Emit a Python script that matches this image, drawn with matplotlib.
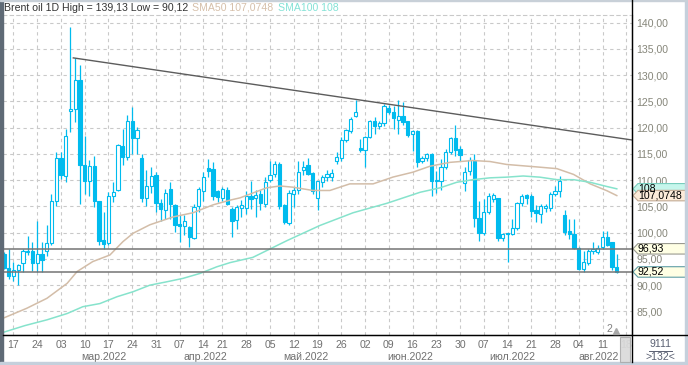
import matplotlib

matplotlib.use("Agg")
import matplotlib.pyplot as plt
import matplotlib.transforms as mtransforms
from matplotlib.lines import Line2D
from matplotlib.patches import Polygon, Rectangle
import numpy as np
import pandas as pd

plt.rcParams["font.family"] = ["Liberation Sans", "DejaVu Sans"]

W, H = 688, 365

# trading days shown (Good Friday has no bar)
dates = pd.bdate_range("2022-02-15", "2022-08-16").drop(pd.Timestamp("2022-04-15"))

opens = [
    95.97, 93.31, 91.78, 92.93, 94.26, 96.30, 96.42, 94.26, 95.91, 96.55,
    98.00, 106.07, 114.32, 110.77, 123.15, 123.60, 129.18, 112.93, 109.81, 112.61,
    106.00, 98.70, 98.00, 106.96, 108.16, 116.60, 114.39, 121.37, 118.07, 114.26,
    106.64, 108.80, 111.02, 105.63, 104.23, 108.36, 105.37, 101.63, 101.30, 101.05,
    99.02, 104.99, 107.85, 112.36, 112.04, 107.85, 106.64, 108.04, 104.55, 102.45,
    104.74, 104.74, 107.08, 106.64, 107.45, 105.50, 110.07, 111.10, 113.00, 105.18,
    101.88, 107.40, 108.04, 111.85, 112.93, 111.40, 106.64, 109.75, 110.58, 110.70,
    113.63, 114.20, 117.70, 119.34, 122.26, 116.20, 115.78, 118.32, 121.24, 120.29,
    120.86, 123.78, 123.08, 121.50, 122.30, 121.20, 118.83, 119.28, 113.60, 114.26,
    114.90, 109.90, 109.81, 112.50, 115.34, 118.07, 115.85, 109.50, 111.72, 113.75,
    102.83, 99.97, 103.90, 106.50, 106.58, 98.96, 99.90, 99.78, 100.90, 105.69,
    107.20, 106.96, 104.23, 103.60, 104.74, 104.74, 107.40, 107.91, 103.40, 100.23,
    99.78, 97.10, 93.10, 94.26, 96.42, 96.30, 97.20, 99.15, 98.20, 93.40,
]
highs = [
    96.30, 96.93, 94.39, 94.07, 96.93, 99.46, 98.19, 102.32, 98.19, 101.37,
    107.40, 115.34, 115.34, 119.78, 139.13, 133.24, 131.85, 118.51, 113.94, 114.70,
    106.10, 103.90, 107.72, 109.62, 116.93, 119.78, 122.50, 123.91, 120.10, 115.02,
    111.85, 112.48, 111.53, 106.45, 108.36, 109.62, 105.50, 103.28, 103.28, 101.20,
    105.50, 108.67, 111.53, 114.07, 113.43, 108.20, 108.67, 108.67, 104.86, 105.18,
    106.26, 107.85, 109.80, 108.16, 108.04, 110.58, 113.75, 113.75, 113.43, 105.50,
    108.04, 108.67, 113.75, 113.75, 114.26, 111.50, 109.94, 110.90, 111.85, 112.04,
    115.34, 118.20, 119.78, 122.00, 125.20, 117.80, 118.50, 121.50, 122.10, 121.37,
    124.55, 124.40, 124.20, 125.30, 124.90, 121.37, 119.60, 119.60, 114.70, 115.15,
    115.15, 111.80, 114.07, 115.97, 118.32, 120.60, 116.60, 112.48, 114.40, 115.00,
    106.10, 106.45, 107.53, 107.60, 106.64, 99.90, 100.00, 102.60, 105.94, 107.40,
    107.40, 107.40, 105.18, 105.50, 105.50, 107.72, 108.80, 110.80, 104.40, 102.64,
    102.64, 97.24, 96.50, 96.93, 98.20, 97.60, 100.40, 100.40, 98.20, 95.97,
]
lows = [
    93.00, 91.20, 90.89, 90.12, 92.60, 95.78, 92.70, 92.60, 92.50, 95.53,
    97.56, 105.05, 110.26, 109.62, 119.15, 121.05, 105.50, 107.40, 107.08, 104.86,
    97.56, 96.93, 97.56, 105.80, 108.03, 112.80, 113.80, 115.02, 115.02, 105.80,
    104.99, 107.50, 103.91, 102.32, 102.64, 102.64, 100.10, 98.20, 99.47, 97.24,
    98.83, 103.91, 106.13, 110.60, 106.26, 105.80, 106.00, 105.20, 99.15, 100.70,
    102.96, 103.50, 104.55, 102.96, 104.23, 104.86, 109.62, 110.58, 104.55, 101.70,
    101.37, 104.86, 107.40, 110.90, 110.90, 107.40, 104.35, 108.67, 109.94, 109.94,
    113.12, 113.75, 117.24, 118.96, 122.00, 115.34, 112.48, 118.00, 118.83, 119.80,
    120.40, 122.60, 119.80, 118.83, 120.60, 118.30, 115.50, 112.50, 113.20, 113.60,
    107.08, 107.50, 108.04, 112.20, 114.90, 114.70, 113.75, 108.03, 111.00, 101.05,
    98.50, 99.50, 103.50, 105.80, 98.50, 98.50, 94.40, 99.50, 100.50, 105.00,
    105.50, 102.96, 102.00, 101.80, 104.00, 104.20, 107.00, 106.77, 99.50, 98.80,
    96.80, 92.80, 92.60, 93.80, 96.00, 95.90, 96.90, 97.40, 92.80, 92.40,
]
closes = [
    93.31, 91.72, 92.93, 93.75, 96.55, 96.55, 94.26, 95.91, 94.83, 98.00,
    106.07, 114.20, 111.02, 118.39, 123.60, 129.18, 112.80, 109.81, 112.61, 106.00,
    98.51, 97.94, 107.08, 107.72, 116.80, 114.40, 121.37, 118.07, 119.47, 106.64,
    108.80, 110.77, 105.63, 104.48, 107.53, 105.50, 101.50, 101.30, 102.26, 99.15,
    104.86, 108.36, 110.58, 111.72, 106.90, 106.77, 108.36, 105.50, 102.32, 104.86,
    105.18, 107.08, 106.45, 107.21, 105.63, 109.75, 111.02, 113.10, 105.05, 102.00,
    107.60, 108.04, 111.65, 112.60, 111.21, 107.85, 109.81, 110.58, 111.21, 111.40,
    114.51, 117.75, 119.47, 121.70, 122.90, 115.78, 118.32, 121.37, 120.29, 120.93,
    124.04, 122.96, 121.80, 122.30, 121.06, 118.70, 119.28, 113.43, 114.26, 114.90,
    109.81, 110.10, 112.60, 115.34, 118.07, 115.66, 114.83, 111.53, 113.88, 102.83,
    99.97, 103.90, 107.08, 107.20, 98.96, 99.78, 99.78, 100.90, 105.69, 107.08,
    106.58, 104.10, 103.78, 105.05, 104.99, 107.40, 107.91, 109.94, 100.10, 99.78,
    97.10, 93.10, 94.39, 96.50, 96.93, 97.12, 99.20, 97.75, 93.40, 92.52,
]

# moving averages at sample bars (bar index, price)
sma50_bar = [-0.2, 4.8, 9.05, 13.3, 15.4, 18.7, 22.3, 25.05, 27.2, 30.7, 35.6, 39.8,
             44.0, 47.6, 49.7, 55.3, 58.1, 60.8, 65.05, 68.6, 72.8, 77.7, 81.9, 86.1,
             89.7, 93.9, 98.7, 102.3, 105.8, 109.3, 112.8, 116.4, 119.9, 123.4, 126.9, 129.0]
sma50_val = [83.7, 85.6, 87.5, 90.35, 92.6, 94.5, 95.75, 98.3, 99.9, 101.5, 103.0, 103.8,
             105.3, 106.2, 106.64, 108.55, 108.9, 108.67, 108.04, 108.04, 109.3, 109.3, 110.6, 111.53,
             112.67, 113.4, 113.75, 113.56, 113.0, 112.74, 112.48, 112.2, 111.1, 109.3, 108.0, 107.07]
sma100_bar = [-0.2, 4.4, 9.05, 13.3, 16.6, 20.2, 23.8, 27.2, 30.7, 34.3, 37.7, 41.3, 44.8,
              47.6, 52.4, 59.6, 66.5, 73.5, 80.6, 87.6, 91.8, 95.3, 98.7, 102.3, 105.8,
              109.3, 112.8, 116.4, 119.9, 123.4, 126.9, 129.0]
sma100_val = [81.0, 82.3, 83.4, 84.6, 85.9, 86.5, 87.8, 88.76, 90.0, 90.65, 91.3, 92.25, 93.5,
              94.3, 95.3, 98.5, 101.37, 103.8, 105.6, 107.7, 108.55, 109.6, 110.1, 110.45, 110.58,
              110.8, 110.58, 110.1, 110.1, 109.6, 108.8, 108.36]

trend_bar = [14.6, 132.2]
trend_val = [133.3, 117.66]
levels = [96.93, 92.52]

month_labels = {3: "мар.2022", 4: "апр.2022", 5: "май.2022",
                6: "июн.2022", 7: "июл.2022", 8: "авг.2022"}

BLUE = "#00bbee"
TAN = "#d3bda8"
AQUA = "#86e3cc"
GRID = "#c9c9c9"
LABEL = "#707070"


def px(x, y):
    return x / W, 1 - y / H


def main() -> None:
    o, h, l, c = map(np.asarray, (opens, highs, lows, closes))
    xs = np.arange(len(dates))
    xmin, xmax = -0.2, 132.2

    fig = plt.figure(figsize=(W / 100, H / 100), dpi=100)
    ax = fig.add_axes([3 / W, 1 - 335 / H, 629 / W, 320 / H])
    ax.set_xlim(xmin, xmax)
    ax.set_ylim(80.51, 141.47)

    # candles
    up = c >= o
    ax.vlines(xs, l, h, color=BLUE, lw=0.9, zorder=3)
    ax.bar(xs, np.maximum(np.abs(c - o), 0.1), bottom=np.minimum(o, c), width=0.7,
           color=np.where(up, "white", BLUE), edgecolor=BLUE, linewidth=0.8, zorder=4)

    ax.plot(sma50_bar, sma50_val, color=TAN, lw=1.1, zorder=5)
    ax.plot(sma100_bar, sma100_val, color=AQUA, lw=1.1, zorder=5)
    ax.plot(trend_bar, trend_val, color="#5c5c5c", lw=1.0, zorder=5)
    for v in levels:
        ax.axhline(v, color="#747474", lw=1.1, zorder=5)

    # axes styling
    for side in ("left",):
        ax.spines[side].set_visible(False)
    ax.spines["top"].set_color(GRID)
    ax.spines["top"].set_linestyle((0, (3, 3)))
    ax.spines["top"].set_linewidth(0.8)
    ax.spines["right"].set_color("black")
    ax.spines["bottom"].set_color("black")

    ax.yaxis.tick_right()
    ax.set_yticks(range(85, 145, 5))
    ax.set_yticklabels([f"{v:.2f}".replace(".", ",") for v in range(85, 145, 5)])
    ax.tick_params(axis="y", length=0, pad=3, labelsize=7.6, labelcolor="#86867a")

    thursdays = [i for i, d in enumerate(dates) if d.weekday() == 3] + [len(dates) + 1]
    day_text = [dates[i].strftime("%d") for i in thursdays[:-1]] + ["18"]
    ax.set_xticks(thursdays)
    ax.set_xticklabels(day_text)
    ax.tick_params(axis="x", length=0, pad=3.5, labelsize=7.6, labelcolor=LABEL)
    ax.get_xticklabels()[-1].set_color("#c4c4c4")

    ax.grid(True, color=GRID, lw=0.8, linestyle=(0, (3, 3)))
    ax.set_axisbelow(True)

    # month captions, centred on the visible part of each month
    months = pd.Series(xs, index=dates.month)
    for m, lab in month_labels.items():
        idx = months.loc[m]
        right = xmax if m == 8 else idx.max()
        ax.annotate(lab, xy=((idx.min() + right) / 2, 0), xycoords=("data", "axes fraction"),
                    xytext=(0, -15.5), textcoords="offset points", ha="center", va="center",
                    fontsize=7.6, color=LABEL, annotation_clip=False)

    # price tags on the right scale
    tr = mtransforms.blended_transform_factory(ax.transAxes, ax.transData)
    tags = [(108.36, "108", "#c6f6ec", "#78cdbd"),
            (107.07, "107,0748", "#fcebd9", "#c3ab95"),
            (96.93, "96,93", "#ffffe4", "#9a9a90"),
            (92.52, "92,52", "#ffffe4", "#5f9ea6")]
    d = 1 / 629
    for v, txt, fc, ec in tags:
        ax.add_patch(Polygon([(1.0 + d, v), (1 + 6 * d, v + 1.0), (1 + 90 * d, v + 1.0),
                              (1 + 90 * d, v - 1.0), (1 + 6 * d, v - 1.0)], closed=True,
                             transform=tr, facecolor=fc, edgecolor=ec, lw=0.8,
                             clip_on=False, zorder=10))
        ax.text(1 + 6 * d, v, txt, transform=tr, ha="left", va="center", fontsize=7.6,
                color="black", clip_on=False, zorder=11)

    # header line
    t1 = fig.text(*px(4, 8), "Brent oil 1D High = 139,13 Low = 90,12", fontsize=7.6,
                  color="#333333", va="center", ha="left")
    t2 = fig.text(0, 0, "", fontsize=7.6)
    t2 = ax.annotate("SMA50 107,0748", xy=(1, 0), xycoords=t1, xytext=(3, 0),
                     textcoords="offset points", va="bottom", fontsize=7.6, color="#d6c0aa")
    ax.annotate("SMA100 108", xy=(1, 0), xycoords=t2, xytext=(3, 0),
                textcoords="offset points", va="bottom", fontsize=7.6, color="#84e2d6")

    # frame decorations
    fig.add_artist(Line2D([3 / W, 1], [1 - 335 / H] * 2, color="black", lw=1))
    fig.add_artist(Line2D([632 / W] * 2, [1 - 362 / H, 1], color="black", lw=1))
    fig.add_artist(Rectangle(px(0, 365), 2.5 / W, 1, color="#5f6a76"))
    fig.add_artist(Rectangle(px(0, 365), 1, 3.5 / H, color="#c5d0dc"))
    fig.add_artist(Rectangle(px(685, 365), 3 / W, 1, color="#c5d0dc"))
    fig.add_artist(Rectangle(px(0, 1.2), 1, 1.2 / H, color="#c8d0d8"))
    fig.add_artist(Rectangle(px(620, 362), 10 / W, 25 / H, facecolor="#d6d6d6",
                             edgecolor="#a8a8a8", lw=0.8, alpha=0.85))
    fig.text(*px(609, 329), "2", fontsize=7.6, color="#808080", ha="center", va="center")
    fig.add_artist(Line2D([616 / W], [1 - 331 / H], marker="^", markersize=5,
                          color="#a8a8a8", lw=0))
    fig.text(*px(660, 344), "9111", fontsize=7.6, color="#5a6072", ha="center", va="center")
    fig.add_artist(Line2D([649 / W, 672 / W], [1 - 351 / H] * 2, color="#5a6072", lw=0.7))
    fig.text(*px(660, 357), ">132<", fontsize=7.6, color="#5a6072", ha="center", va="center")

    fig.savefig("out.png", dpi=100)


if __name__ == "__main__":
    main()
